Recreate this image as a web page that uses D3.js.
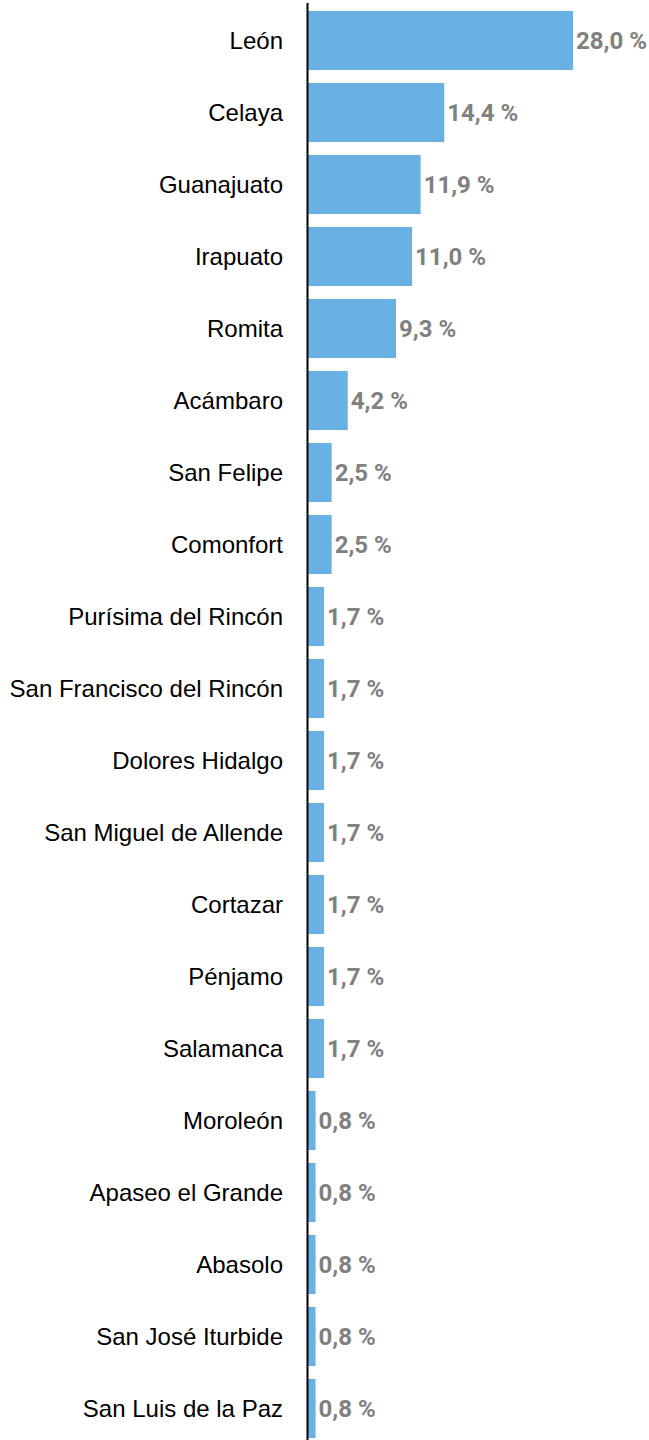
<!DOCTYPE html>
<html><head><meta charset="utf-8">
<script src="https://cdn.jsdelivr.net/npm/d3@7"></script>
<style>body{margin:0;background:#fff}svg{display:block}</style>
</head><body>
<script>
const categories = ["León","Celaya","Guanajuato","Irapuato","Romita","Acámbaro","San Felipe","Comonfort","Purísima del Rincón","San Francisco del Rincón","Dolores Hidalgo","San Miguel de Allende","Cortazar","Pénjamo","Salamanca","Moroleón","Apaseo el Grande","Abasolo","San José Iturbide","San Luis de la Paz"];
const values = [28.0,14.4,11.9,11.0,9.3,4.2,2.5,2.5,1.7,1.7,1.7,1.7,1.7,1.7,1.7,0.8,0.8,0.8,0.8,0.8];

const W = 649, H = 1440;
const svg = d3.select("body").append("svg").attr("width", W).attr("height", H);
const x = d3.scaleLinear().domain([0, 28]).range([308, 573]);
const y = d3.scaleBand().domain(categories).range([4.5, 1444.5]).paddingInner(0.18).paddingOuter(0.09);

svg.selectAll("rect.bar").data(values).join("rect")
  .attr("class","bar")
  .attr("x", x(0))
  .attr("y", (d,i) => y(categories[i]))
  .attr("width", d => x(d) - x(0))
  .attr("height", y.bandwidth())
  .attr("fill", "#69b1e4");

svg.selectAll("text.cat").data(categories).join("text")
  .attr("class","cat")
  .attr("x", 283)
  .attr("y", d => y(d) + y.bandwidth()/2)
  .attr("dy", "0.35em")
  .attr("text-anchor", "end")
  .attr("font-family", "'Liberation Sans', Arial, sans-serif")
  .attr("font-size", 24)
  .attr("fill", "#000")
  .text(d => d);

svg.selectAll("text.val").data(values).join("text")
  .attr("class","val")
  .attr("x", d => x(d) + 3)
  .attr("y", (d,i) => y(categories[i]) + y.bandwidth()/2)
  .attr("dy", "0.35em")
  .attr("font-family", "Roboto, sans-serif")
  .attr("font-weight", "bold")
  .attr("font-size", 24)
  .attr("fill", "#808080")
  .text(d => d3.format(".1f")(d).replace(".", ",") + " %");

svg.append("line")
  .attr("x1", 307.5).attr("x2", 307.5)
  .attr("y1", 3).attr("y2", H)
  .attr("stroke", "#000").attr("stroke-width", 2);
</script>
</body></html>
